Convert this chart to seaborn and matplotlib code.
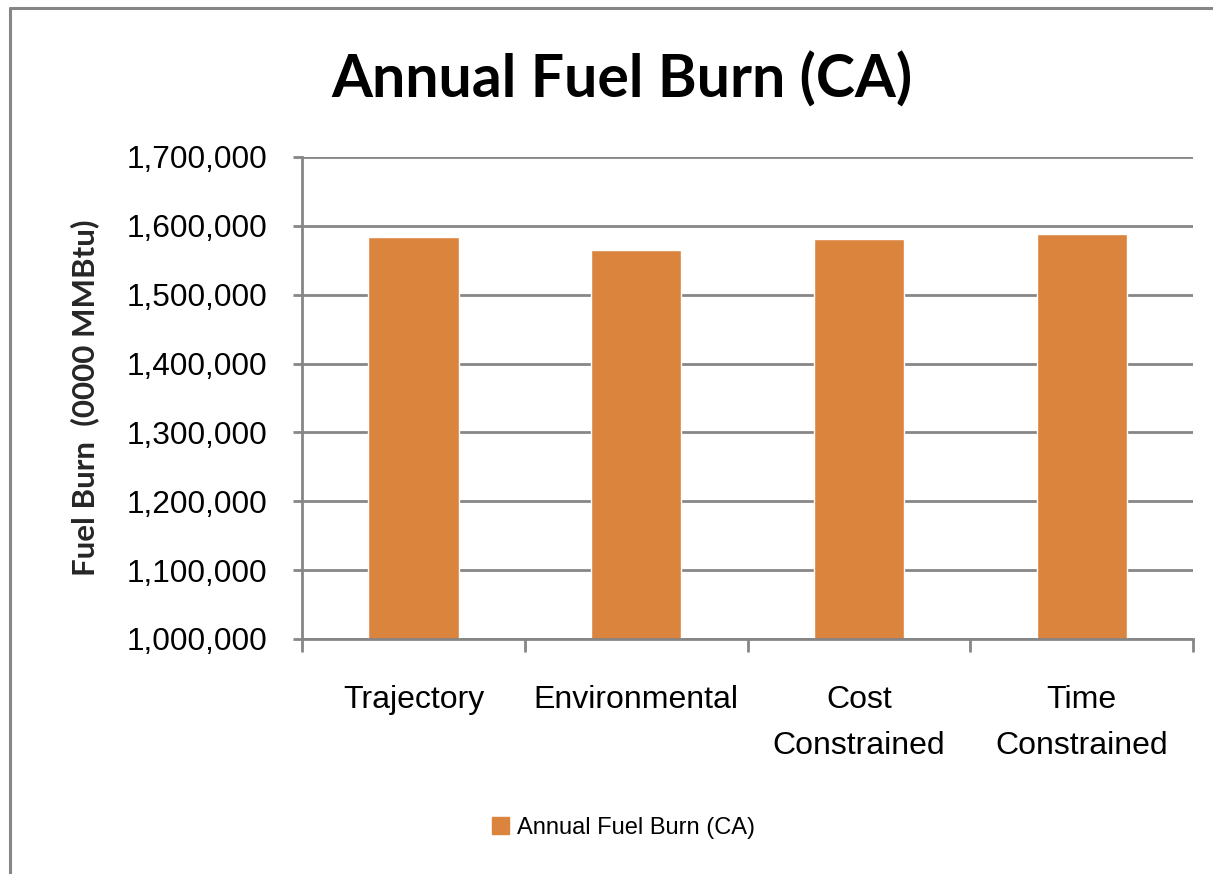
import seaborn as sb
import pandas as pd
import matplotlib.pyplot as plt
from matplotlib.patches import Patch
from matplotlib.lines import Line2D
from matplotlib.ticker import FuncFormatter, FixedLocator

categories = ["Trajectory", "Environmental", "Cost\nConstrained", "Time\nConstrained"]
fuel_burn = [1584000, 1565000, 1581000, 1588000]
yticks = [1000000, 1100000, 1200000, 1300000, 1400000, 1500000, 1600000, 1700000]

df = pd.DataFrame({"scenario": categories, "fuel": fuel_burn})

bar_color = "#DB843D"
grid_color = "#868686"

sb.set_style("white")
plt.rcParams['font.family'] = ['Liberation Sans', 'DejaVu Sans']
plt.rcParams['text.color'] = 'black'
plt.rcParams['xtick.color'] = 'black'
plt.rcParams['ytick.color'] = 'black'

fig = plt.figure(figsize=(12.13, 8.74), dpi=100)
ax = fig.add_axes([0.249, 0.2689, 0.7345, 0.5515])

sb.barplot(data=df, x="scenario", y="fuel", color=bar_color, width=0.405,
           saturation=1, ax=ax)

ax.set_ylim(1000000, 1700000)
ax.set_xlim(-0.5, 3.5)
ax.set_yticks(yticks)
ax.yaxis.set_major_formatter(FuncFormatter(lambda v, p: f"{int(v):,}"))
ax.grid(axis='y', color=grid_color, linewidth=2)
ax.set_axisbelow(True)

for s in ["top", "right"]:
    ax.spines[s].set_visible(False)
for s in ["left", "bottom"]:
    ax.spines[s].set_color(grid_color)
    ax.spines[s].set_linewidth(2)

ax.tick_params(axis='y', which='major', direction='out', length=6.5, width=2,
               color=grid_color, labelcolor='black', labelsize=22.8, pad=18.5, left=True)
ax.tick_params(axis='x', which='major', length=0, labelsize=23, labelcolor='black', pad=33)
ax.xaxis.set_minor_locator(FixedLocator([-0.5, 0.5, 1.5, 2.5, 3.5]))
ax.tick_params(axis='x', which='minor', direction='out', length=9, width=2,
               color=grid_color, bottom=True)
for lbl in ax.get_xticklabels():
    lbl.set_linespacing(1.7)
    lbl.set_verticalalignment('top')

ax.set_xlabel("")
ax.set_ylabel("Fuel Burn  (0000 MMBtu)", fontsize=22.5, fontweight='bold',
              family=['Lato', 'DejaVu Sans'], labelpad=20)

fig.text(0.5124, 0.8879, "Annual Fuel Burn (CA)", fontsize=42.5, fontweight='bold',
         family=['Lato', 'DejaVu Sans'], ha='center', va='baseline')

fig.legend(handles=[Patch(color=bar_color, label="Annual Fuel Burn (CA)")],
           loc='center', bbox_to_anchor=(0.514, 0.0526), frameon=False,
           fontsize=17, handlelength=0.7, handleheight=0.7, handletextpad=0.35)

fig.add_artist(Line2D([0.0085, 0.0085], [0.0, 0.9908], transform=fig.transFigure,
                      color=grid_color, linewidth=2.2))
fig.add_artist(Line2D([0.0085, 1.0], [0.9908, 0.9908], transform=fig.transFigure,
                      color=grid_color, linewidth=2.2))

plt.savefig('out.png', dpi=100)
